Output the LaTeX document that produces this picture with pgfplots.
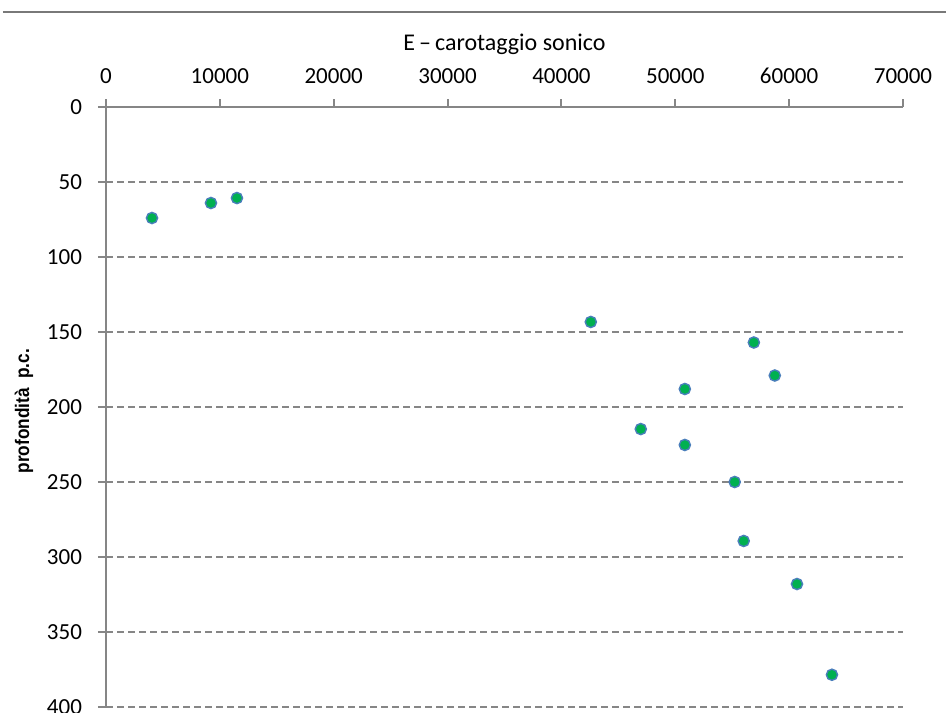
\documentclass[border=0pt]{standalone}
\usepackage{fontspec}
\setmainfont{Carlito}
\newfontfamily\labfont{Liberation Sans}
\usepackage{graphicx}
\usepackage{pgfplots}
\pgfplotsset{compat=1.18}
\definecolor{axgray}{HTML}{868686}
\definecolor{mkgreen}{HTML}{00B050}
\definecolor{mkblue}{HTML}{4A7EBB}
\begin{document}
\begin{tikzpicture}
\path[use as bounding box] (-53bp,-3bp) rectangle (420bp,353.5bp);
\draw[color=axgray!90!black, line width=1.2bp] (-51.5bp,347.5bp) -- (420bp,347.5bp);
\begin{axis}[
  at={(0,0)}, anchor=south west,
  scale only axis, width=398.5bp, height=300bp,
  font=\fontsize{11.5bp}{13bp}\selectfont,
  /pgf/number format/assume math mode=true,
  /pgf/number format/1000 sep={},
  scaled x ticks=false,
  xmin=0, xmax=70000, ymin=0, ymax=400,
  y dir=reverse,
  axis x line=top, axis y line=left,
  axis line style={color=axgray, line width=1bp, -},
  xtick={0,10000,...,70000},
  ytick={0,50,...,400},
  tick align=outside,
  major tick length=4bp,
  tick style={color=axgray, line width=1bp},
  xticklabel style={yshift=4bp},
  yticklabel style={xshift=-4.5bp},
  ymajorgrids,
  grid style={color=axgray, line width=0.75bp, dash pattern=on 3.5bp off 2bp},
  title={E\,–\,carotaggio sonico},
  title style={at={(axis description cs:0.5,1)}, anchor=base, yshift=22.5bp, inner sep=0pt, font=\fontsize{12bp}{14bp}\selectfont},
  ylabel={\labfont\bfseries\scalebox{0.88}[1]{profondità\ \ p.c.}},
  ylabel style={at={(axis description cs:-0.103,0.493)}, anchor=center, font=\fontsize{9.8bp}{11bp}\selectfont},
  clip=false,
]
\addplot[only marks, mark=*, mark size=2.8bp, mark options={draw=mkblue, fill=mkgreen, line width=0.7bp}]
coordinates {
(4040,74) (9220,64) (11500,60.7) (42580,143.3) (56900,157) (58740,179)
(50840,188) (46970,214.7) (50840,225.3) (55220,250) (56010,289.3)
(60690,318) (63760,378.5)
};
\end{axis}
\end{tikzpicture}
\end{document}
